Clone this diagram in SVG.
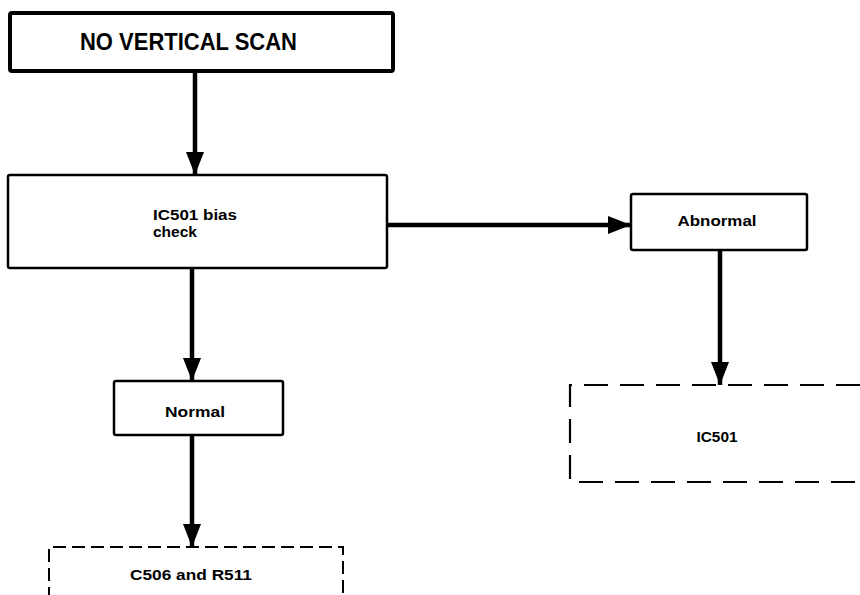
<svg xmlns="http://www.w3.org/2000/svg" width="860" height="595" viewBox="0 0 860 595">
<style>
.box{fill:#fff;stroke:#000;stroke-width:2.5}
.title{fill:#fff;stroke:#000;stroke-width:4}
.dash1{fill:none;stroke:#000;stroke-width:2.2;stroke-dasharray:24 12}
.dash2{fill:none;stroke:#000;stroke-width:2;stroke-dasharray:13 6}
.conn{stroke:#000;stroke-width:4.5;fill:none}
text{font-family:"Liberation Sans",Arial,sans-serif;font-weight:bold;fill:#000}
.t{font-size:15.5px}
</style>
<defs>
<marker id="ah" markerUnits="userSpaceOnUse" markerWidth="24" markerHeight="18" refX="23" refY="9" orient="auto">
<path d="M0,0 L23,9 L0,18 Z" fill="#000"/>
</marker>
</defs>
<rect width="860" height="595" fill="#fff"/>
<g id="connectors">
<line class="conn" x1="195" y1="72" x2="195" y2="175" marker-end="url(#ah)"/>
<line class="conn" x1="387" y1="225" x2="631" y2="225" marker-end="url(#ah)"/>
<line class="conn" x1="192" y1="268" x2="192" y2="381" marker-end="url(#ah)"/>
<line class="conn" x1="720" y1="250" x2="720" y2="385" marker-end="url(#ah)"/>
<line class="conn" x1="192" y1="435" x2="192" y2="547" marker-end="url(#ah)"/>
</g>
<g id="node-start">
<rect class="title" x="10" y="13" width="383" height="58" rx="2"/>
<text x="80" y="50" font-size="23" textLength="217" lengthAdjust="spacingAndGlyphs">NO VERTICAL SCAN</text>
</g>
<g id="node-check">
<rect class="box" x="8" y="175" width="379" height="93" rx="2"/>
<text class="t" x="153" y="220" textLength="84" lengthAdjust="spacingAndGlyphs">IC501 bias</text>
<text class="t" x="153" y="237">check</text>
</g>
<g id="node-abnormal">
<rect class="box" x="631" y="194" width="176" height="56" rx="2"/>
<text class="t" x="717" y="226" text-anchor="middle" textLength="79" lengthAdjust="spacingAndGlyphs">Abnormal</text>
</g>
<g id="node-normal">
<rect class="box" x="114" y="381" width="169" height="54" rx="2"/>
<text class="t" x="195" y="417" text-anchor="middle" textLength="60" lengthAdjust="spacingAndGlyphs">Normal</text>
</g>
<g id="node-ic501">
<path class="dash1" d="M860,385 H570 V482 H860"/>
<text class="t" x="717" y="442" text-anchor="middle" textLength="41" lengthAdjust="spacingAndGlyphs">IC501</text>
</g>
<g id="node-c506">
<path class="dash2" d="M49,600 V547 H343 V600"/>
<text class="t" x="191" y="580" text-anchor="middle" textLength="122" lengthAdjust="spacingAndGlyphs">C506 and R511</text>
</g>
</svg>
